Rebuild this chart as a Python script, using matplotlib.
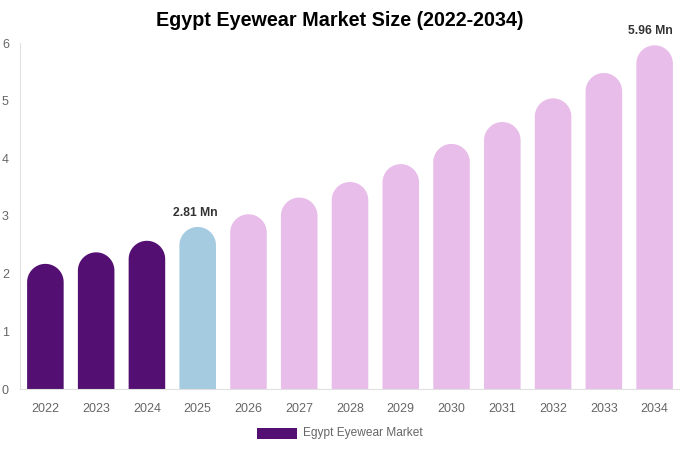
import matplotlib.pyplot as plt
from matplotlib.patches import PathPatch, Rectangle
from matplotlib.path import Path
import numpy as np

years = ["2022", "2023", "2024", "2025", "2026", "2027", "2028",
         "2029", "2030", "2031", "2032", "2033", "2034"]
values = [2.17, 2.37, 2.57, 2.81, 3.03, 3.32, 3.59,
          3.90, 4.25, 4.63, 5.04, 5.48, 5.96]
labels = {3: "2.81 Mn", 12: "5.96 Mn"}
series_name = "Egypt Eyewear Market"

DARK = "#531072"
BLUE = "#a4cbe0"
PINK = "#e8bde9"


def bar_colour(i):
    if i < 3:
        return DARK
    if i == 3:
        return BLUE
    return PINK


def rounded_bar(ax, x, h, w, r_y):
    """Bar with a semicircular top; r_y is the cap radius in y units."""
    top = h - r_y
    t = np.linspace(np.pi, 0, 40)
    cap_x = x + (w / 2) * np.cos(t)
    cap_y = top + r_y * np.sin(t)
    verts = [(x - w / 2, 0), (x - w / 2, top)]
    verts += list(zip(cap_x, cap_y))
    verts += [(x + w / 2, 0), (x - w / 2, 0)]
    codes = [Path.MOVETO] + [Path.LINETO] * (len(verts) - 2) + [Path.CLOSEPOLY]
    return PathPatch(Path(verts, codes), lw=0)


def main():
    plt.rcParams['font.family'] = ['Liberation Sans', 'DejaVu Sans']
    fig = plt.figure(figsize=(6.8, 4.5), dpi=100)
    ax = fig.add_axes([20 / 680, 61 / 450, 660 / 680, 346 / 450])

    ax.set_xlim(-0.5, len(years) - 0.5)
    ax.set_ylim(0, 6)

    w = 0.72
    # cap radius: half the bar width in pixels, converted to y units
    px_per_x = 660 / len(years)
    px_per_y = 346 / 6
    r_y = (w / 2) * px_per_x / px_per_y

    for i, v in enumerate(values):
        p = rounded_bar(ax, i, v, w, r_y)
        p.set_facecolor(bar_colour(i))
        ax.add_patch(p)
        if i in labels:
            ax.text(i - 0.04 if i == 3 else i - 0.08, v + 0.14, labels[i],
                    ha="center", va="bottom", fontsize=8.7,
                    fontweight="bold", color="#333333", clip_on=False)

    ax.set_xticks(range(len(years)))
    ax.set_xticklabels(years)
    ax.set_yticks(range(7))
    ax.tick_params(axis="both", length=0, labelsize=9, colors="#666666")
    ax.tick_params(axis="x", pad=10)
    ax.tick_params(axis="y", pad=8)
    for s in ["top", "right"]:
        ax.spines[s].set_visible(False)
    for s in ["left", "bottom"]:
        ax.spines[s].set_color("#e0e0e0")
        ax.spines[s].set_linewidth(0.8)

    fig.text(0.5, 1 - 21 / 450, "Egypt Eyewear Market Size (2022-2034)",
             ha="center", va="center", fontsize=14.2, fontweight="bold",
             color="#000000")

    # legend
    fig.patches.append(Rectangle((257 / 680, 1 - 439 / 450), 40 / 680, 11 / 450,
                                 transform=fig.transFigure, facecolor=DARK,
                                 lw=0))
    fig.text(303 / 680, 1 - 433 / 450, series_name, ha="left", va="center",
             fontsize=8.6, color="#666666")

    fig.savefig("out.png", dpi=100)


if __name__ == "__main__":
    main()
